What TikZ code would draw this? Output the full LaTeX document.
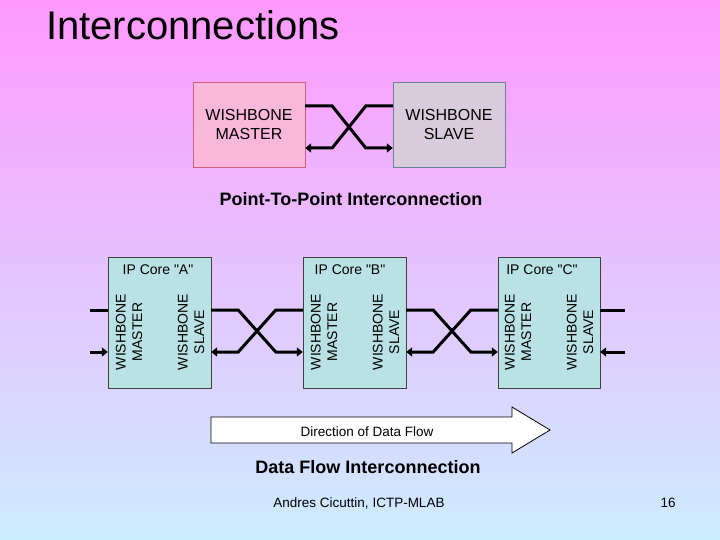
\documentclass[tikz,border=0pt]{standalone}
\usepackage{fontspec}
\setmainfont{Liberation Sans}[Ligatures=ResetAll]
\usetikzlibrary{arrows.meta,calc}

\definecolor{bgtop}{RGB}{255,153,255}
\definecolor{bgbot}{RGB}{204,236,255}
\definecolor{masterfill}{RGB}{249,183,218}
\definecolor{masterline}{RGB}{205,95,125}
\definecolor{slavefill}{RGB}{216,204,220}
\definecolor{slaveline}{RGB}{105,130,150}
\definecolor{corefill}{RGB}{186,226,228}

% straight double quote, set as a glyph so no mapping touches it
\newcommand{\dq}{\XeTeXglyph\XeTeXcharglyph"22\relax}

\tikzset{
  wbbox/.style={minimum width=112pt, minimum height=85pt, inner sep=0pt,
    align=center, font=\fontsize{16}{19}\selectfont},
  wbmaster/.style={wbbox, draw=masterline, fill=masterfill},
  wbslave/.style={wbbox, draw=slaveline, fill=slavefill},
  core/.style={draw=black!75, fill=corefill, minimum height=131pt, inner sep=0pt},
  corelabel/.style={font=\fontsize{14}{16}\selectfont},
  portlabel/.style={rotate=90, align=center, inner sep=0pt,
    font=\fontsize{14}{16.5}\selectfont},
  link/.style={line width=3pt},
  linkto/.style={link, -{Triangle[length=6pt,width=9pt]}},
  caption/.style={font=\fontsize{18}{21}\selectfont\bfseries},
  small/.style={font=\fontsize{13.5}{16}\selectfont},
}

% crossed pair of wires: left node, right node, upper row, lower row
\newcommand{\crosslink}[4]{%
  \draw[linkto] (#1.east |- 0,#3) -- ++(27,0)
    -- ($(#2.west |- 0,#4)+(-27,0)$) -- (#2.west |- 0,#4);
  \draw[linkto] (#2.west |- 0,#3) -- ++(-27,0)
    -- ($(#1.east |- 0,#4)+(27,0)$) -- (#1.east |- 0,#4);
}

\begin{document}
\begin{tikzpicture}[x=1pt, y=-1pt]
  % slide background
  \shade[top color=bgtop, bottom color=bgbot] (0,0) rectangle (720,540);
  \useasboundingbox (0,0) rectangle (720,540);

  \node[anchor=base west, inner sep=0pt, font=\fontsize{40}{44}\selectfont]
    (title) at (46,40) {Interconnections};

  % point-to-point
  \node[wbmaster] (master) at (249,124.5) {WISHBONE\\MASTER};
  \node[wbslave] (slave) at (449,124.5) {WISHBONE\\SLAVE};
  \crosslink{master}{slave}{106}{148}
  \node[caption] (ptp) at (351,199) {Point-To-Point Interconnection};

  % data flow chain of cores
  \node[core, minimum width=103pt] (coreA) at (159.5,322.5) {};
  \node[core, minimum width=103pt] (coreB) at (354.5,322.5) {};
  \node[core, minimum width=102pt] (coreC) at (549,322.5) {};

  \node[corelabel] (labA) at (158,270) {IP Core \dq A\dq};
  \node[corelabel] (labB) at (350,270) {IP Core \dq B\dq};
  \node[corelabel] (labC) at (542,270) {IP Core \dq C\dq};

  \node[portlabel] (mA) at (129,332) {WISHBONE\\MASTER};
  \node[portlabel] (sA) at (191,332) {WISHBONE\\SLAVE};
  \node[portlabel] (mB) at (324,332) {WISHBONE\\MASTER};
  \node[portlabel] (sB) at (386,332) {WISHBONE\\SLAVE};
  \node[portlabel] (mC) at (518,332) {WISHBONE\\MASTER};
  \node[portlabel] (sC) at (580,332) {WISHBONE\\SLAVE};

  \crosslink{coreA}{coreB}{310}{352}
  \crosslink{coreB}{coreC}{310}{352}

  % open ends
  \coordinate (outA) at (90,310);
  \coordinate (inA) at (90,352);
  \coordinate (outC) at (625,310);
  \coordinate (inC) at (625,352);
  \draw[link] (coreA.west |- outA) -- (outA);
  \draw[linkto] (inA) -- (coreA.west |- inA);
  \draw[link] (coreC.east |- outC) -- (outC);
  \draw[linkto] (inC) -- (coreC.east |- inC);

  % direction arrow
  \draw[fill=white, line width=0.8pt] (211,417) -- (512,417) -- (512,407)
    -- (550,430) -- (512,453) -- (512,443) -- (211,443) -- cycle;
  \node[small] (flow) at (367,431.5) {Direction of Data Flow};

  \node[caption] (dfi) at (368,467) {Data Flow Interconnection};

  % footer
  \node[small] (author) at (359,503) {Andres Cicuttin, ICTP-MLAB};
  \node[small] (page) at (668,503) {16};
\end{tikzpicture}
\end{document}
